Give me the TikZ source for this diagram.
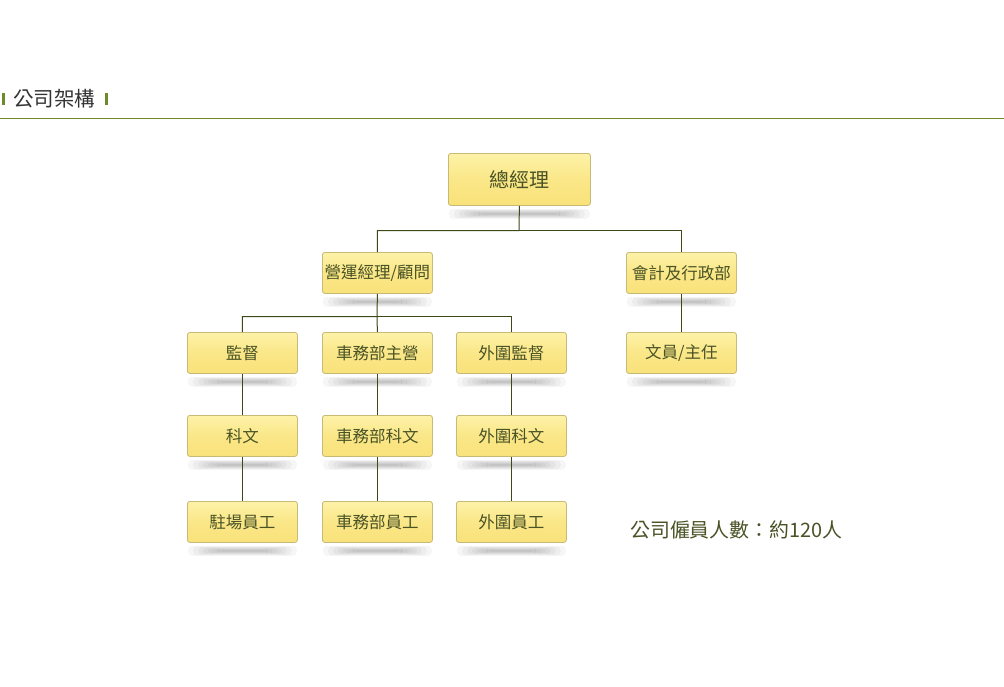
\documentclass[tikz,border=0pt]{standalone}
\usepackage{fontspec}
\newfontfamily\cjk{Noto Sans CJK TC}
\definecolor{boxtop}{HTML}{FDF2A8}
\definecolor{boxbot}{HTML}{F9E27A}
\definecolor{boxedge}{HTML}{C8B975}
\definecolor{boxtext}{HTML}{4A5326}
\definecolor{linecol}{HTML}{3B4A18}
\definecolor{rulecol}{HTML}{6E8B2A}
\definecolor{headtext}{HTML}{333333}
\tikzset{
  x=1pt, y=-1pt,
  orgbox/.style={draw=boxedge, line width=0.8pt, rounded corners=2.5pt,
    top color=boxtop, bottom color=boxbot, middle color=boxbot!70!boxtop,
    minimum width=110pt, minimum height=41pt, inner sep=0pt,
    text=boxtext, font=\cjk\fontsize{16.5}{18}\selectfont, anchor=north west},
  conn/.style={draw=linecol, line width=1pt},
  refl/.style={fill=black, opacity=0.035, rounded corners=4pt}
}
\newcommand{\reflect}[1]{%
  \foreach \k in {0,...,6}{%
    \fill[refl] ([xshift=1pt+5*\k pt,yshift=-3pt-0.7*\k pt]#1.south west) rectangle ([xshift=-1pt-5*\k pt,yshift=-13pt+0.7*\k pt]#1.south east);}}
\begin{document}
\begin{tikzpicture}
\useasboundingbox[fill=white] (0,0) rectangle (1004,686);
% header
\fill[rulecol] (2,93) rectangle (5,105);
\fill[rulecol] (105,93) rectangle (108,105);
\node[anchor=west, text=headtext, font=\cjk\fontsize{20.5}{22}\selectfont, inner sep=0pt] (title) at (13,99) {公司架構};
\draw[rulecol, line width=1pt] (0,118.5) -- (1004,118.5);

% boxes
\node[orgbox, minimum width=142pt, minimum height=52pt, font=\cjk\fontsize{20}{22}\selectfont] (gm) at (448,153) {總經理};
\node[orgbox] (ops) at (322,252) {營運經理/顧問};
\node[orgbox] (acc) at (626,252) {會計及行政部};
\node[orgbox] (sup) at (187,332) {監督};
\node[orgbox] (car) at (322,332) {車務部主營};
\node[orgbox] (out) at (456,332) {外圍監督};
\node[orgbox] (clk) at (626,332) {文員/主任};
\node[orgbox] (sec1) at (187,415) {科文};
\node[orgbox] (sec2) at (322,415) {車務部科文};
\node[orgbox] (sec3) at (456,415) {外圍科文};
\node[orgbox] (st1) at (187,501) {駐場員工};
\node[orgbox] (st2) at (322,501) {車務部員工};
\node[orgbox] (st3) at (456,501) {外圍員工};

% reflections
\foreach \n in {gm,ops,acc,sup,car,out,clk,sec1,sec2,sec3,st1,st2,st3}{\reflect{\n}}

% connectors
\coordinate (j1) at (519,230.5);
\draw[conn] (gm.south) -- (j1) -| (ops.north);
\draw[conn] (j1) -| (acc.north);
\coordinate (j2) at (377,316.5);
\draw[conn] (ops.south) -- (j2) -| (sup.north);
\draw[conn] (j2) -| (out.north);
\draw[conn] (j2) -- (car.north);
\draw[conn] (acc.south) -- (clk.north);
\draw[conn] (sup.south) -- (sec1.north);
\draw[conn] (car.south) -- (sec2.north);
\draw[conn] (out.south) -- (sec3.north);
\draw[conn] (sec1.south) -- (st1.north);
\draw[conn] (sec2.south) -- (st2.north);
\draw[conn] (sec3.south) -- (st3.north);

% footer
\node[anchor=west, text=boxtext, font=\cjk\fontsize{19.9}{22}\selectfont, inner sep=0pt] (staff) at (630,530) {公司僱員人數：約120人};
\end{tikzpicture}
\end{document}
